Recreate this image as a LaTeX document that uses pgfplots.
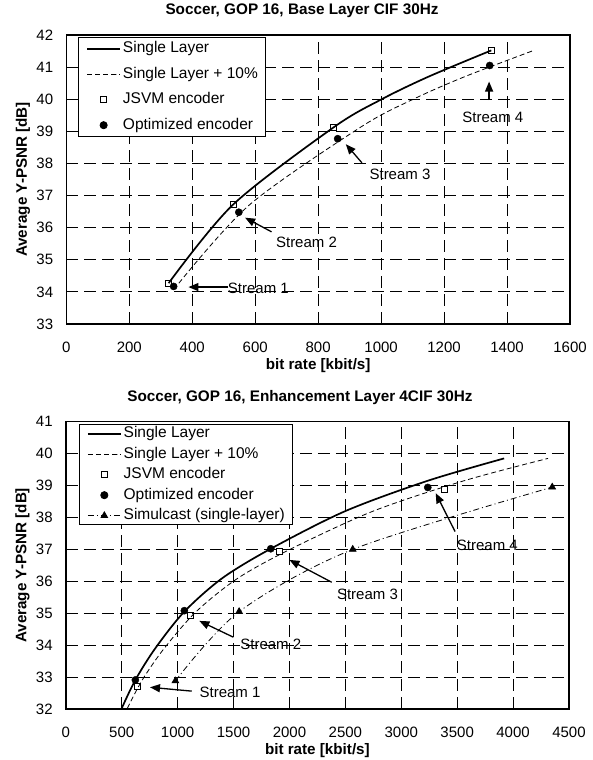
\documentclass[border=0pt]{standalone}
\usepackage{pgfplots}
\pgfplotsset{compat=1.18}
\usepackage{fontspec}
\setmainfont{Liberation Sans}
\usetikzlibrary{arrows.meta}

\tikzset{
  streamarrow/.style={black, line width=1.3bp, -{Triangle[length=10bp, width=8bp]}},
  streamlabel/.style={font=\fontsize{15bp}{18bp}\selectfont, anchor=center, inner sep=0pt},
}

\pgfplotsset{
  soccer/.style={
    scale only axis,
    anchor=south west,
    axis line style={line width=1.5bp},
    grid=major,
    major grid style={black, line width=1bp, dash pattern=on 12bp off 6bp},
    tick style={draw=none},
    /pgf/number format/assume math mode=true,
    /pgf/number format/1000 sep={},
    tick label style={font=\fontsize{15bp}{18bp}\selectfont},
    xticklabel style={anchor=center, yshift=-23.5bp, inner sep=0pt},
    yticklabel style={anchor=east, xshift=-13bp, inner sep=0pt},
    every axis x label/.style={at={([yshift=-42bp]axis description cs:0.5,0)}, anchor=center,
      font=\bfseries\fontsize{15.2bp}{18bp}\selectfont},
    every axis y label/.style={at={([xshift=-43.3bp]axis description cs:0,0.5)}, anchor=center, rotate=90,
      font=\bfseries\fontsize{15.2bp}{18bp}\selectfont},
    title style={font=\bfseries\fontsize{15.3bp}{18bp}\selectfont, anchor=center},
    legend cell align=left,
    legend style={anchor=north west, draw=black, line width=0.8bp, fill=white,
      font=\fontsize{15.5bp}{18bp}\selectfont,
      inner xsep=7.6bp,
      nodes={inner sep=0bp, text height=11bp, text depth=3bp},
      /tikz/every odd column/.append style={column sep=2bp}},
  },
  wide legend/.style={legend image code/.code={
      \draw[mark repeat=2,mark phase=2,##1] plot coordinates {(0bp,0bp) (16.5bp,0bp) (33bp,0bp)};}},
  single/.style={black, line width=1.7bp, smooth, no markers, wide legend},
  plusten/.style={black, line width=0.8bp, dash pattern=on 5bp off 3bp, smooth, no markers, wide legend},
  jsvm/.style={only marks, mark=square, mark size=3bp, mark options={solid, fill=white, line width=0.8bp}, wide legend},
  optim/.style={only marks, mark=*, mark size=3.6bp, mark options={solid, fill=black}, wide legend},
  simul/.style={black, line width=0.8bp, dash pattern=on 6bp off 3bp on 1bp off 3bp, smooth, mark=triangle*, mark size=3.8bp, mark options={solid, fill=black}, wide legend},
}

\begin{document}
\begin{tikzpicture}
\path[use as bounding box] (0,0) rectangle (593bp,760bp);

% Base layer, CIF 30 Hz
\begin{axis}[soccer,
  at={(66.3bp,436bp)}, width=503.7bp, height=289bp,
  xmin=0, xmax=1600, ymin=33, ymax=42,
  xtick={0,200,...,1600}, ytick={33,34,...,42},
  xlabel={bit rate [kbit/s]}, ylabel={Average Y-PSNR [dB]},
  title={Soccer, GOP 16, Base Layer CIF 30Hz},
  title style={at={([yshift=18bp]axis description cs:0.468,1)}},
  legend style={at={(0.0238,0.992)}, inner ysep=4bp, row sep=11.5bp},
]
\addplot[single] coordinates {(325,34.27) (530,36.72) (850,39.13) (1000,39.99) (1150,40.70) (1350,41.52)};
\addlegendentry{Single Layer}
\addplot[plusten] coordinates {(357.5,34.27) (583,36.72) (935,39.13) (1100,39.99) (1265,40.70) (1485,41.52)};
\addlegendentry{Single Layer + 10\%}
\addplot[jsvm] coordinates {(325,34.27) (530,36.72) (850,39.13) (1350,41.52)};
\addlegendentry{JSVM encoder}
\addplot[optim] coordinates {(341,34.17) (548,36.48) (862,38.77) (1345,41.05)};
\addlegendentry{Optimized encoder}

\draw[streamarrow] (axis cs:515,34.15) -- (axis cs:388,34.15);
\node[streamlabel] at (axis cs:610,34.12) {Stream 1};
\draw[streamarrow] (axis cs:652,35.87) -- (axis cs:568,36.31);
\node[streamlabel] at (axis cs:763,35.54) {Stream 2};
\draw[streamarrow] (axis cs:939,38.02) -- (axis cs:888,38.60);
\node[streamlabel] at (axis cs:1060,37.67) {Stream 3};
\draw[streamarrow] (axis cs:1343,39.97) -- (axis cs:1343,40.55);
\node[streamlabel] at (axis cs:1355,39.44) {Stream 4};
\end{axis}

% Enhancement layer, 4CIF 30 Hz
\begin{axis}[soccer,
  at={(65.8bp,51bp)}, width=503.2bp, height=287.3bp,
  xmin=0, xmax=4500, ymin=32, ymax=41,
  xtick={0,500,...,4500}, ytick={32,33,...,41},
  xlabel={bit rate [kbit/s]}, ylabel={Average Y-PSNR [dB]},
  title={Soccer, GOP 16, Enhancement Layer 4CIF 30Hz},
  title style={at={([yshift=18.4bp]axis description cs:0.4654,1)}},
  legend style={at={(0.0262,0.991)}, inner ysep=2bp, row sep=6.5bp},
]
\addplot[single] coordinates {(500,32.02) (622,32.91) (800,33.9) (1060,35.05) (1400,36.1) (1833,37.02) (2500,38.2) (3237,39.15) (3920,39.85)};
\addlegendentry{Single Layer}
\addplot[plusten] coordinates {(550,32.02) (684,32.91) (880,33.9) (1166,35.05) (1540,36.1) (2016,37.02) (2750,38.2) (3561,39.15) (4312,39.85)};
\addlegendentry{Single Layer + 10\%}
\addplot[jsvm] coordinates {(643,32.72) (1114,34.94) (1910,36.95) (3383,38.89)};
\addlegendentry{JSVM encoder}
\addplot[optim] coordinates {(622,32.91) (1060,35.08) (1833,37.02) (3237,38.94)};
\addlegendentry{Optimized encoder}
\addplot[simul] coordinates {(980,32.88) (1550,35.05) (2566,37.0) (4350,38.95)};
\addlegendentry{Simulcast (single-layer)}

\draw[streamarrow] (axis cs:1126,32.56) -- (axis cs:753,32.68);
\node[streamlabel] at (axis cs:1469,32.51) {Stream 1};
\draw[streamarrow] (axis cs:1498,34.25) -- (axis cs:1194,34.76);
\node[streamlabel] at (axis cs:1833,34.04) {Stream 2};
\draw[streamarrow] (axis cs:2378,35.97) -- (axis cs:2000,36.67);
\node[streamlabel] at (axis cs:2698,35.60) {Stream 3};
\draw[streamarrow] (axis cs:3481,37.56) -- (axis cs:3308,38.76);
\node[streamlabel] at (axis cs:3770,37.14) {Stream 4};
\end{axis}
\end{tikzpicture}
\end{document}
